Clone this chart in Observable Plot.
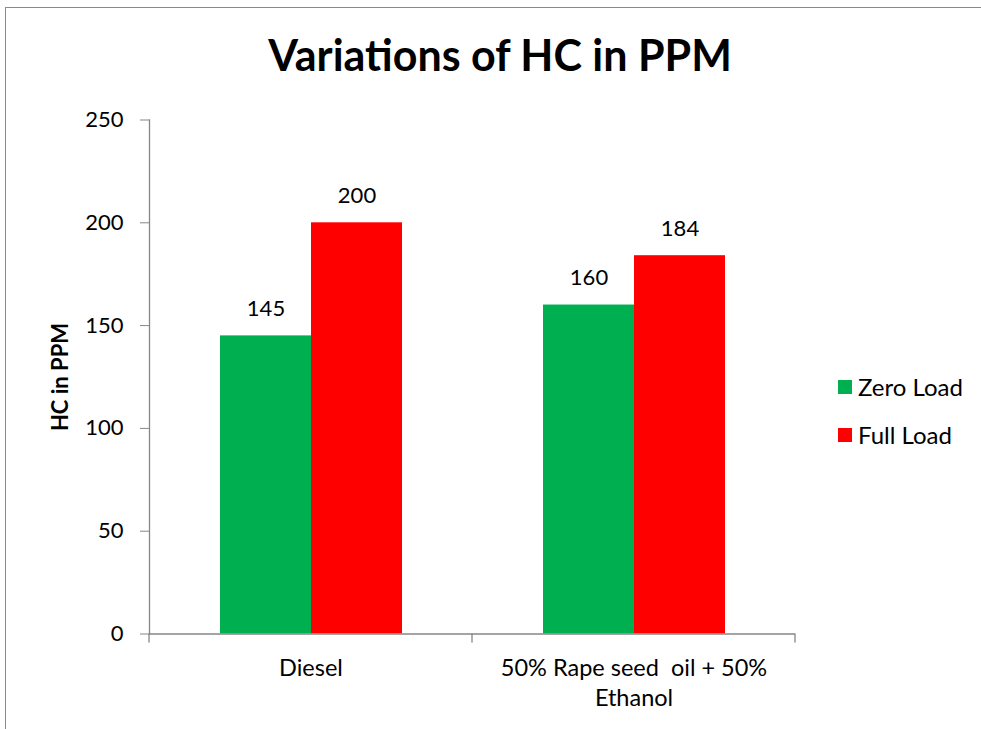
<!DOCTYPE html>
<html>
<head>
<meta charset="utf-8">
<script src="https://cdn.jsdelivr.net/npm/d3@7"></script>
<script src="https://cdn.jsdelivr.net/npm/@observablehq/plot@0.6"></script>
<style>
  html, body { margin: 0; padding: 0; background: #fff; }
  #wrap { position: relative; width: 981px; height: 729px; overflow: hidden; font-family: Lato, "Open Sans", sans-serif; }
  #border { position: absolute; left: 5px; top: 7px; right: -10px; bottom: -10px; border-top: 1px solid #8a8a8a; border-left: 1px solid #8a8a8a; }
  #title { position: absolute; left: 0; width: 1000px; top: 29px; text-align: center; font-weight: bold; font-size: 43px; line-height: 52px; color: #000; }
  #chart { position: absolute; left: 0; top: 0; }
  #chart svg text { white-space: pre; }
  .legend { position: absolute; left: 838px; font-size: 24px; line-height: 28px; color: #000; display: flex; align-items: center; }
  .legend .sw { width: 14px; height: 14px; margin-right: 6px; }
</style>
</head>
<body>
<div id="wrap">
  <div id="border"></div>
  <div id="chart"></div>
  <div id="title">Variations of HC in PPM</div>
  <div id="legend"></div>
</div>
<script>
const categories = ["Diesel", "50% Rape seed  oil + 50%\nEthanol"];
const series = ["Zero Load", "Full Load"];
const zeroLoad = [145, 160];
const fullLoad = [200, 184];
const colors = ["#00B050", "#FF0000"];
const yTicks = [0, 50, 100, 150, 200, 250];
const yLabel = "HC in PPM";

const data = categories.flatMap((c, i) => [
  {cat: c, series: series[0], value: zeroLoad[i]},
  {cat: c, series: series[1], value: fullLoad[i]}
]);

const gray = "#868686";

const plot = Plot.plot({
  width: 981,
  height: 729,
  marginLeft: 148,
  marginRight: 186,
  marginTop: 119.5,
  marginBottom: 95.5,
  style: {fontFamily: "Lato, 'Open Sans', sans-serif", background: "transparent", overflow: "visible"},
  fx: {domain: categories, padding: 0, axis: null, label: null},
  x: {domain: series, paddingOuter: 0.758, paddingInner: 0, axis: null},
  y: {domain: [0, 250], axis: null},
  color: {domain: series, range: colors},
  marks: [
    Plot.barY(data, {fx: "cat", x: "series", y: "value", fill: "series"}),
    Plot.ruleY([0], {stroke: gray, strokeWidth: 1.3}),
    Plot.frame({anchor: "left", stroke: gray, strokeWidth: 1.3, facetAnchor: "left"}),
    Plot.axisY({ticks: yTicks, tickSize: 9, tickPadding: 17, fontSize: 22, stroke: gray, fill: "#000", label: null, facetAnchor: "left"}),
    Plot.axisFx({anchor: "bottom", tickSize: 0, tickPadding: 20, fontSize: 23.5, lineHeight: 1.3, fill: "#000", label: null}),
    Plot.text(data, {fx: "cat", x: "series", y: "value", text: d => String(d.value), lineAnchor: "bottom", dy: -20, fontSize: 22, fill: "#000"}),
    Plot.text([yLabel], {frameAnchor: "left", textAnchor: "middle", rotate: -90, dx: -89, fontWeight: "bold", fontSize: 22, fill: "#000", facetAnchor: "left"})
  ]
});

// category boundary ticks from the fx scale
const fx = plot.scale("fx");
const yS = plot.scale("y");
const starts = categories.map(c => fx.apply(c));
const edges = [...starts, starts[starts.length - 1] + fx.bandwidth];
const y0 = yS.apply(0);
const svg = d3.select(plot.tagName === "svg" ? plot : plot.querySelector("svg"));
svg.append("g").selectAll("line").data(edges).join("line")
  .attr("x1", d => d).attr("x2", d => d)
  .attr("y1", y0).attr("y2", y0 + 9)
  .attr("stroke", gray).attr("stroke-width", 1.3);

document.getElementById("chart").appendChild(plot);

// legend
const lg = document.getElementById("legend");
series.forEach((s, i) => {
  const row = document.createElement("div");
  row.className = "legend";
  row.style.top = (373 + i * 48) + "px";
  const sw = document.createElement("div");
  sw.className = "sw";
  sw.style.background = colors[i];
  const t = document.createElement("span");
  t.textContent = s;
  row.appendChild(sw);
  row.appendChild(t);
  lg.appendChild(row);
});
</script>
</body>
</html>
